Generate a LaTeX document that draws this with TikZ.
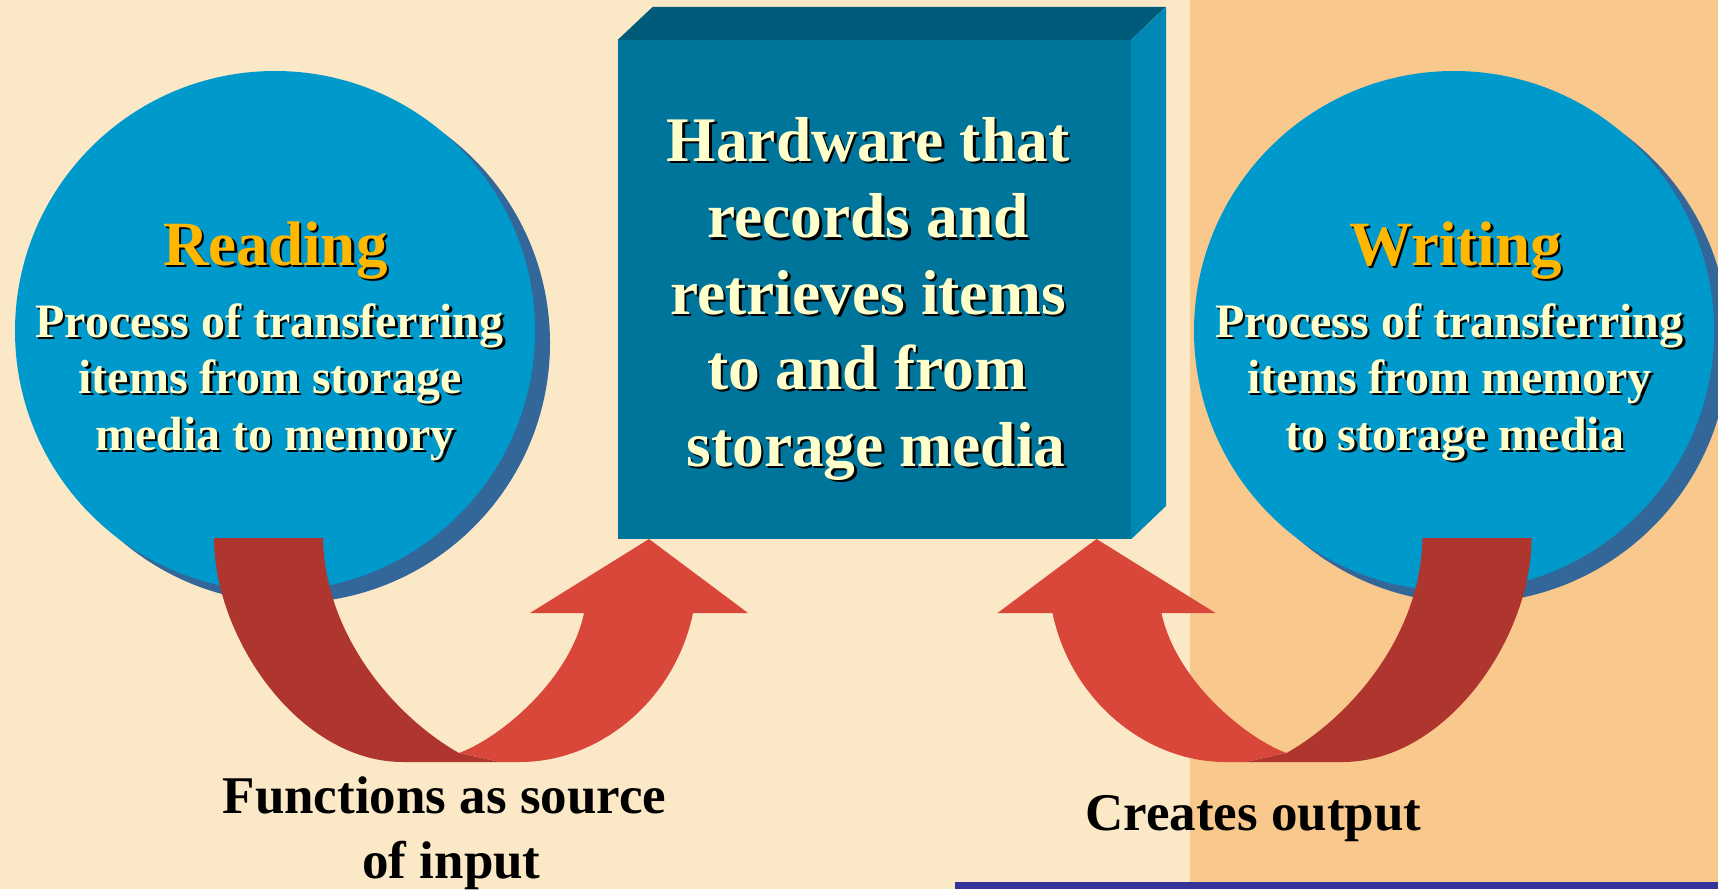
\documentclass[tikz,border=0pt]{standalone}
\usepackage{fontspec}
\setmainfont{Liberation Serif}
\usetikzlibrary{calc}
\definecolor{cream}{HTML}{FBE8C6}
\definecolor{peach}{HTML}{F9C88C}
\definecolor{navyline}{HTML}{333399}
\definecolor{cblue}{HTML}{0099CC}
\definecolor{cshadow}{HTML}{336699}
\definecolor{boxfront}{HTML}{00759C}
\definecolor{boxtop}{HTML}{005B7A}
\definecolor{boxside}{HTML}{0088B5}
\definecolor{darkred}{HTML}{AF352F}
\definecolor{lightred}{HTML}{D9463A}
\definecolor{titley}{HTML}{FFB700}
\definecolor{texty}{HTML}{FFFFCC}
\tikzset{
  txt/.style={anchor=base, inner sep=0pt},
  disc/.style={circle, fill=cblue, minimum size=520pt, inner sep=0pt},
  discshadow/.style={circle, fill=cshadow, minimum size=520pt, inner sep=0pt},
  darkrib/.style={fill=darkred},
  lightrib/.style={fill=lightred},
}
\newcommand{\stx}[5]{%
  \node[txt, font=\fontsize{#3}{#3}\selectfont\bfseries, text=black] (#2s) at ($(#1)+(2.5,2.5)$) {#5};
  \node[txt, font=\fontsize{#3}{#3}\selectfont\bfseries, text=#4] (#2) at (#1) {#5};}
\newcommand{\uarrow}{%
  \fill[darkrib] (214,538) -- (323,538) .. controls (325,640) and (400,720) .. (459,753)
    -- (500,762) -- (403,762) .. controls (299,762) and (214,638) .. (214,538) -- cycle;
  \fill[lightrib] (459,753) .. controls (500,738) and (570,680) .. (584,613)
    -- (530,613) -- (649,539) -- (748,613) -- (693,613)
    .. controls (675,700) and (600,762) .. (520,762) -- (500,762) -- cycle;}
\begin{document}
\begin{tikzpicture}[x=1pt,y=-1pt]
\useasboundingbox (0,0) rectangle (1718,889);
\fill[cream] (0,0) rectangle (1718,889);
\fill[peach] (1190,0) rectangle (1718,882);
\fill[navyline] (955,882) rectangle (1718,889);

% circles
\node[discshadow] (readsh) at (290,343) {};
\node[disc] (readc) at (275,331) {};
\node[discshadow] (writesh) at (1469,343) {};
\node[disc] (writec) at (1454,331) {};

% box
\node[rectangle, fill=boxfront, minimum width=513pt, minimum height=499pt, inner sep=0pt] (box) at (874.5,289.5) {};
\fill[boxtop] (box.north west) -- ++(35,-33) -- ++(513,0) -- (box.north east) -- cycle;
\fill[boxside] (box.north east) -- ++(35,-33) -- ++(0,499) -- (box.south east) -- cycle;

% U-shaped arrows
\uarrow
\begin{scope}[xshift=1745.5pt, xscale=-1]
\uarrow
\end{scope}

% texts
\stx{275.5,265}{rd}{63}{titley}{Reading}
\stx{269.5,337}{rdA}{48}{texty}{Process of transferring}
\stx{270,393}{rdB}{48}{texty}{items from storage}
\stx{275,450}{rdC}{48}{texty}{media to memory}

\stx{1455.5,265}{wr}{63}{titley}{Writing}
\stx{1449.5,337}{wrA}{48}{texty}{Process of transferring}
\stx{1449.5,393}{wrB}{48}{texty}{items from memory}
\stx{1455,450}{wrC}{48}{texty}{to storage media}

\stx{868,161}{hwA}{63.5}{texty}{Hardware that}
\stx{868,237.5}{hwB}{63.5}{texty}{records and}
\stx{868,314}{hwC}{63.5}{texty}{retrieves items}
\stx{867,389}{hwD}{63.5}{texty}{to and from}
\stx{876,466}{hwE}{63.5}{texty}{storage media}

\node[txt, font=\fontsize{53}{53}\selectfont\bfseries] (fnA) at (444.5,813) {Functions as source};
\node[txt, font=\fontsize{53}{53}\selectfont\bfseries] (fnB) at (451.5,878) {of input};
\node[txt, font=\fontsize{53}{53}\selectfont\bfseries] (co) at (1253.5,830) {Creates output};
\end{tikzpicture}
\end{document}
